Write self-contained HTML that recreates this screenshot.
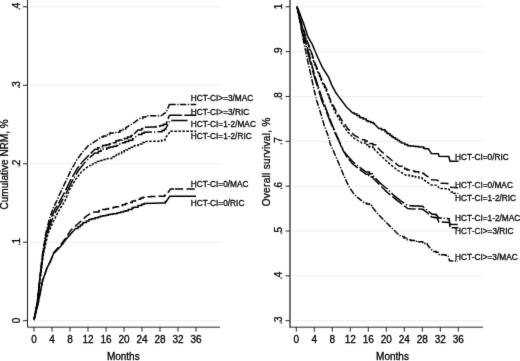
<!DOCTYPE html>
<html><head><meta charset="utf-8"><title>Chart</title>
<style>
html,body{margin:0;padding:0;background:#fff;}
body{width:520px;height:361px;overflow:hidden;}
svg{display:block;font-family:"Liberation Sans",sans-serif;}
</style></head><body>
<svg width="520" height="361" viewBox="0 0 520 361">
<defs><filter id="b" x="0" y="0" width="520" height="361" filterUnits="userSpaceOnUse"><feConvolveMatrix order="3" kernelMatrix="1 7 1 7 68 7 1 7 1" divisor="100" edgeMode="duplicate"/></filter></defs>
<rect width="520" height="361" fill="#fff"/>
<g filter="url(#b)">
<g stroke="#ededed" stroke-width="1">
<line x1="30" x2="220" y1="6.80" y2="6.80"/>
<line x1="30" x2="220" y1="85.27" y2="85.27"/>
<line x1="30" x2="220" y1="163.75" y2="163.75"/>
<line x1="30" x2="220" y1="242.22" y2="242.22"/>
<line x1="30" x2="220" y1="320.70" y2="320.70"/>
<line x1="292.5" x2="483" y1="6.80" y2="6.80"/>
<line x1="292.5" x2="483" y1="51.64" y2="51.64"/>
<line x1="292.5" x2="483" y1="96.48" y2="96.48"/>
<line x1="292.5" x2="483" y1="141.32" y2="141.32"/>
<line x1="292.5" x2="483" y1="186.16" y2="186.16"/>
<line x1="292.5" x2="483" y1="231.00" y2="231.00"/>
<line x1="292.5" x2="483" y1="275.84" y2="275.84"/>
<line x1="292.5" x2="483" y1="320.68" y2="320.68"/>
</g>
<g stroke="#222" stroke-width="1" fill="none">
<path d="M27.5,0 V327.2 H220"/>
<path d="M290,0 V327.2" stroke-width="1.3"/>
<path d="M289.4,327.2 H483"/>
<line x1="23.0" x2="27.5" y1="6.80" y2="6.80"/>
<line x1="23.0" x2="27.5" y1="85.27" y2="85.27"/>
<line x1="23.0" x2="27.5" y1="163.75" y2="163.75"/>
<line x1="23.0" x2="27.5" y1="242.22" y2="242.22"/>
<line x1="23.0" x2="27.5" y1="320.70" y2="320.70"/>
<line x1="285.5" x2="290" y1="6.80" y2="6.80"/>
<line x1="285.5" x2="290" y1="51.64" y2="51.64"/>
<line x1="285.5" x2="290" y1="96.48" y2="96.48"/>
<line x1="285.5" x2="290" y1="141.32" y2="141.32"/>
<line x1="285.5" x2="290" y1="186.16" y2="186.16"/>
<line x1="285.5" x2="290" y1="231.00" y2="231.00"/>
<line x1="285.5" x2="290" y1="275.84" y2="275.84"/>
<line x1="285.5" x2="290" y1="320.68" y2="320.68"/>
<line x1="34.0" x2="34.0" y1="327.2" y2="331.7"/>
<line x1="52.0" x2="52.0" y1="327.2" y2="331.7"/>
<line x1="70.0" x2="70.0" y1="327.2" y2="331.7"/>
<line x1="88.0" x2="88.0" y1="327.2" y2="331.7"/>
<line x1="106.0" x2="106.0" y1="327.2" y2="331.7"/>
<line x1="124.0" x2="124.0" y1="327.2" y2="331.7"/>
<line x1="142.0" x2="142.0" y1="327.2" y2="331.7"/>
<line x1="160.0" x2="160.0" y1="327.2" y2="331.7"/>
<line x1="178.0" x2="178.0" y1="327.2" y2="331.7"/>
<line x1="196.0" x2="196.0" y1="327.2" y2="331.7"/>
<line x1="296.3" x2="296.3" y1="327.2" y2="331.7"/>
<line x1="314.3" x2="314.3" y1="327.2" y2="331.7"/>
<line x1="332.3" x2="332.3" y1="327.2" y2="331.7"/>
<line x1="350.3" x2="350.3" y1="327.2" y2="331.7"/>
<line x1="368.3" x2="368.3" y1="327.2" y2="331.7"/>
<line x1="386.3" x2="386.3" y1="327.2" y2="331.7"/>
<line x1="404.3" x2="404.3" y1="327.2" y2="331.7"/>
<line x1="422.3" x2="422.3" y1="327.2" y2="331.7"/>
<line x1="440.3" x2="440.3" y1="327.2" y2="331.7"/>
<line x1="458.3" x2="458.3" y1="327.2" y2="331.7"/>
</g>
<g fill="#000" font-size="10px" stroke="#000" stroke-width="0.3">
<text x="34.0" y="343" text-anchor="middle">0</text>
<text x="52.0" y="343" text-anchor="middle">4</text>
<text x="70.0" y="343" text-anchor="middle">8</text>
<text x="88.0" y="343" text-anchor="middle">12</text>
<text x="106.0" y="343" text-anchor="middle">16</text>
<text x="124.0" y="343" text-anchor="middle">20</text>
<text x="142.0" y="343" text-anchor="middle">24</text>
<text x="160.0" y="343" text-anchor="middle">28</text>
<text x="178.0" y="343" text-anchor="middle">32</text>
<text x="196.0" y="343" text-anchor="middle">36</text>
<text x="296.3" y="343" text-anchor="middle">0</text>
<text x="314.3" y="343" text-anchor="middle">4</text>
<text x="332.3" y="343" text-anchor="middle">8</text>
<text x="350.3" y="343" text-anchor="middle">12</text>
<text x="368.3" y="343" text-anchor="middle">16</text>
<text x="386.3" y="343" text-anchor="middle">20</text>
<text x="404.3" y="343" text-anchor="middle">24</text>
<text x="422.3" y="343" text-anchor="middle">28</text>
<text x="440.3" y="343" text-anchor="middle">32</text>
<text x="458.3" y="343" text-anchor="middle">36</text>
<text transform="translate(19.6,6.80) rotate(-90)" text-anchor="middle" letter-spacing="-0.6">.4</text>
<text transform="translate(19.6,85.27) rotate(-90)" text-anchor="middle" letter-spacing="-0.6">.3</text>
<text transform="translate(19.6,163.75) rotate(-90)" text-anchor="middle" letter-spacing="-0.6">.2</text>
<text transform="translate(19.6,242.22) rotate(-90)" text-anchor="middle" letter-spacing="-0.6">.1</text>
<text transform="translate(19.6,320.70) rotate(-90)" text-anchor="middle" letter-spacing="-0.6">0</text>
<text transform="translate(281.7,6.80) rotate(-90)" text-anchor="middle" letter-spacing="-0.6">1</text>
<text transform="translate(281.7,51.64) rotate(-90)" text-anchor="middle" letter-spacing="-0.6">.9</text>
<text transform="translate(281.7,96.48) rotate(-90)" text-anchor="middle" letter-spacing="-0.6">.8</text>
<text transform="translate(281.7,141.32) rotate(-90)" text-anchor="middle" letter-spacing="-0.6">.7</text>
<text transform="translate(281.7,186.16) rotate(-90)" text-anchor="middle" letter-spacing="-0.6">.6</text>
<text transform="translate(281.7,231.00) rotate(-90)" text-anchor="middle" letter-spacing="-0.6">.5</text>
<text transform="translate(281.7,275.84) rotate(-90)" text-anchor="middle" letter-spacing="-0.6">.4</text>
<text transform="translate(281.7,320.68) rotate(-90)" text-anchor="middle" letter-spacing="-0.6">.3</text>
<text x="123.3" y="359.7" text-anchor="middle">Months</text>
<text x="392.5" y="359.7" text-anchor="middle">Months</text>
<text transform="translate(8.3,164.4) rotate(-90)" text-anchor="middle">Cumulative NRM, %</text>
<text transform="translate(270.4,206.3) rotate(-90)" textLength="88.6" lengthAdjust="spacing">Overall survival, %</text>
</g>
<g fill="#000" font-size="8.5px" stroke="#000" stroke-width="0.3">
<text x="190.7" y="101.15" textLength="62.6" lengthAdjust="spacingAndGlyphs">HCT-CI&gt;=3/MAC</text>
<text x="190.7" y="114.95" textLength="58.5" lengthAdjust="spacingAndGlyphs">HCT-CI&gt;=3/RIC</text>
<text x="190.7" y="126.55" textLength="65.2" lengthAdjust="spacingAndGlyphs">HCT-CI=1-2/MAC</text>
<text x="190.7" y="138.65" textLength="61.0" lengthAdjust="spacingAndGlyphs">HCT-CI=1-2/RIC</text>
<text x="190.7" y="186.70" textLength="57.8" lengthAdjust="spacingAndGlyphs">HCT-CI=0/MAC</text>
<text x="190.7" y="206.45" textLength="53.7" lengthAdjust="spacingAndGlyphs">HCT-CI=0/RIC</text>
<text x="455.1" y="160.15" textLength="53.7" lengthAdjust="spacingAndGlyphs">HCT-CI=0/RIC</text>
<text x="455.1" y="187.85" textLength="57.8" lengthAdjust="spacingAndGlyphs">HCT-CI=0/MAC</text>
<text x="455.1" y="200.65" textLength="61.0" lengthAdjust="spacingAndGlyphs">HCT-CI=1-2/RIC</text>
<text x="455.1" y="220.85" textLength="65.2" lengthAdjust="spacingAndGlyphs">HCT-CI=1-2/MAC</text>
<text x="455.1" y="234.05" textLength="58.5" lengthAdjust="spacingAndGlyphs">HCT-CI&gt;=3/RIC</text>
<text x="455.1" y="259.95" textLength="62.6" lengthAdjust="spacingAndGlyphs">HCT-CI&gt;=3/MAC</text>
</g>
<g stroke="#000" stroke-width="1.5" fill="none" stroke-linejoin="miter">
<path d="M34.00,320.00 L35.54,311.58 L36.78,304.76 L37.30,301.90 L38.52,289.79 L39.40,281.00 L40.95,267.33 L41.50,262.50 L42.60,253.80 L43.71,246.64 L44.60,240.91 L45.70,233.80 L47.25,227.54 L48.24,223.56 L49.50,218.50 L50.49,215.75 L52.00,211.57 L53.40,207.70 L54.52,205.43 L55.38,203.68 L56.80,200.80 L58.29,197.45 L59.26,195.26 L60.55,192.37 L61.60,190.00 L62.76,187.58 L64.11,184.76 L65.04,182.82 L66.37,180.06 L67.50,177.70 L68.49,175.51 L69.82,172.59 L71.00,170.00 L71.94,168.39 L73.13,166.34 L74.44,164.11 L75.28,162.66 L76.61,160.39 L77.30,159.20 L78.14,158.06 L79.39,156.38 L80.23,155.24 L81.47,153.57 L83.00,151.50 L84.19,150.20 L85.37,148.91 L86.88,147.27 L87.93,146.13 L88.50,145.50 L90.77,144.10 L92.43,143.08 L95.00,141.50 L96.56,140.37 L98.83,138.72 L101.20,137.00 L103.46,137.00 L103.46,136.02 L106.28,136.02 L106.28,134.79 L109.64,134.79 L109.64,133.33 L110.40,133.33 L110.40,133.00 L114.39,133.00 L114.39,132.54 L116.50,132.54 L116.50,132.30 L119.89,132.30 L119.89,130.62 L123.34,130.62 L123.34,128.92 L125.80,128.92 L125.80,127.70 L128.11,126.29 L129.78,125.27 L132.18,123.80 L133.50,123.00 L135.16,121.78 L137.38,120.14 L138.99,118.95 L139.60,118.50 L142.77,118.50 L142.77,117.12 L145.80,117.12 L145.80,115.80 L161.00,115.80 L162.78,114.57 L164.46,113.40 L166.20,112.20 L167.52,108.98 L168.46,106.70 L169.40,104.40 M169.40,104.40 L196.20,104.40" stroke-dasharray="6.3 1.5 1.3 1.5"/>
<path d="M34.00,320.00 L35.54,311.83 L36.78,305.21 L37.40,301.90 L38.62,290.34 L39.60,281.00 L41.15,267.95 L41.80,262.50 L42.90,253.80 L44.01,247.27 L44.90,242.04 L46.30,233.80 L47.85,228.51 L48.84,225.14 L50.50,219.50 L51.49,217.19 L53.00,213.66 L54.24,210.77 L55.00,209.00 L55.86,207.64 L56.81,206.14 L58.80,203.00 L59.77,201.19 L61.06,198.81 L62.30,196.51 L63.46,194.36 L65.00,191.50 L65.93,189.59 L67.25,186.88 L68.14,185.06 L69.13,183.03 L70.46,180.31 L71.00,179.20 L71.94,177.58 L73.13,175.52 L74.44,173.27 L75.28,171.81 L76.61,169.53 L77.20,168.50 L78.04,167.46 L79.29,165.91 L80.13,164.86 L81.37,163.32 L82.65,161.73 L83.40,160.80 L84.66,159.52 L86.28,157.87 L87.41,156.73 L88.75,155.36 L89.50,154.60 L90.54,153.58 L92.30,151.85 L93.46,150.72 L95.00,149.20 L97.78,149.20 L97.78,147.83 L99.78,147.83 L99.78,146.84 L102.70,146.84 L102.70,145.40 L106.06,145.40 L106.06,144.70 L109.18,144.70 L109.18,144.05 L110.40,144.05 L110.40,143.80 L112.44,143.80 L112.44,142.79 L115.85,142.79 L115.85,141.12 L116.50,141.12 L116.50,140.80 L119.05,140.80 L119.05,140.04 L122.27,140.04 L122.27,139.08 L124.20,139.08 L124.20,138.50 L127.55,138.50 L127.55,137.09 L131.12,137.09 L131.12,135.60 L133.50,135.60 L133.50,134.60 L135.10,132.96 L136.26,131.78 L137.27,130.75 L138.00,130.00 L141.67,130.00 L141.67,128.46 L144.20,128.46 L144.20,127.40 L153.50,127.00 L156.16,127.00 L156.16,126.43 L159.65,126.43 L159.65,125.69 L161.00,125.69 L161.00,125.40 L163.50,125.40 L163.50,124.31 L166.50,124.31 L166.50,123.00 L167.79,119.54 L169.40,115.20 M169.40,115.20 L196.20,115.20" stroke-dasharray="12.5 2.5"/>
<path d="M34.00,320.00 L35.16,314.00 L36.21,308.56 L37.50,301.90 L38.69,291.10 L39.80,281.00 L41.18,269.40 L42.00,262.50 L43.10,253.80 L43.99,249.22 L45.29,242.59 L47.00,233.80 L48.28,230.16 L49.28,227.31 L50.73,223.19 L51.50,221.00 L52.58,218.63 L53.61,216.35 L54.94,213.44 L56.50,210.00 L58.00,207.65 L59.47,205.34 L60.00,204.50 L61.00,202.65 L62.29,200.28 L63.43,198.16 L64.73,195.76 L65.92,193.56 L66.50,192.50 L67.99,189.53 L68.85,187.80 L69.94,185.62 L71.02,183.47 L72.50,180.50 L73.42,178.93 L74.68,176.81 L76.20,174.23 L77.48,172.07 L78.70,170.00 L79.82,168.66 L80.98,167.29 L82.09,165.97 L83.19,164.65 L84.28,163.36 L85.00,162.50 L86.81,160.69 L88.40,159.10 L89.95,157.55 L91.00,156.50 L92.31,155.35 L93.65,154.18 L95.00,153.00 L98.39,153.00 L98.39,151.33 L101.15,151.33 L101.15,149.97 L102.70,149.97 L102.70,149.20 L106.78,149.20 L106.78,148.03 L109.10,148.03 L109.10,147.37 L110.40,147.37 L110.40,147.00 L113.41,147.00 L113.41,146.21 L116.50,146.21 L116.50,145.40 L119.78,145.40 L119.78,144.03 L122.58,144.03 L122.58,142.85 L125.05,142.85 L125.05,141.81 L125.80,141.81 L125.80,141.50 L128.85,141.50 L128.85,140.31 L132.63,140.31 L132.63,138.84 L133.50,138.84 L133.50,138.50 L135.18,137.26 L137.08,135.87 L138.80,134.60 L141.84,134.60 L141.84,133.31 L144.20,133.31 L144.20,132.30 L159.60,131.80 L162.07,131.80 L162.07,130.49 L164.37,130.49 L164.37,129.26 L165.80,129.26 L165.80,128.50 L167.01,126.24 L168.03,124.32 L169.29,121.95 L169.80,121.00 L171.20,120.60 M171.20,120.60 L187.50,120.60" stroke-dasharray="16.3 2.2 1.2 2.2"/>
<path d="M34.00,320.00 L35.00,314.97 L36.51,307.37 L37.60,301.90 L38.46,294.44 L40.00,281.00 L41.35,270.11 L42.30,262.50 L43.40,253.80 L44.84,247.55 L45.95,242.72 L47.37,236.54 L48.00,233.80 L49.39,230.54 L50.75,227.34 L51.84,224.79 L52.60,223.00 L54.14,219.97 L55.62,217.06 L57.11,214.12 L58.03,212.32 L58.80,210.80 L60.25,208.46 L61.31,206.75 L62.18,205.35 L63.56,203.12 L65.00,200.80 L66.54,197.12 L67.56,194.66 L68.46,192.49 L69.50,190.00 L70.95,187.48 L72.26,185.20 L73.17,183.60 L74.26,181.72 L75.19,180.09 L75.70,179.20 L77.10,177.43 L78.27,175.96 L79.49,174.41 L80.50,173.15 L81.80,171.50 L84.09,169.69 L85.75,168.37 L87.31,167.14 L89.50,165.40 L92.90,165.40 L92.90,163.68 L94.93,163.68 L94.93,162.65 L97.20,162.65 L97.20,161.50 L100.59,161.50 L100.59,160.56 L104.00,160.56 L104.00,159.61 L107.22,159.61 L107.22,158.72 L108.00,158.72 L108.00,158.50 L111.69,158.50 L111.69,156.81 L114.29,156.81 L114.29,155.61 L116.50,155.61 L116.50,154.60 L118.73,154.60 L118.73,153.50 L121.65,153.50 L121.65,152.05 L124.04,152.05 L124.04,150.87 L125.80,150.87 L125.80,150.00 L128.65,150.00 L128.65,148.58 L131.34,148.58 L131.34,147.23 L134.35,147.23 L134.35,145.72 L135.00,145.72 L135.00,145.40 L138.26,145.40 L138.26,144.02 L142.00,144.02 L142.00,142.43 L144.20,142.43 L144.20,141.50 L159.60,141.20 L161.60,141.20 L161.60,140.20 L165.00,140.20 L165.00,138.50 L166.10,137.01 L167.22,135.49 L168.15,134.24 L169.41,132.54 L170.40,131.20 M170.40,131.20 L196.20,131.20" stroke-dasharray="2.5 1.5"/>
<path d="M34.00,320.00 L35.28,314.75 L36.77,308.69 L38.40,302.00 L39.75,295.07 L41.27,287.32 L42.50,281.00 L43.87,276.99 L45.23,273.00 L46.70,268.70 L47.57,266.95 L48.53,265.00 L50.09,261.85 L50.80,260.40 L51.83,257.47 L53.40,253.00 L54.41,251.88 L55.56,250.60 L56.78,249.24 L57.83,248.07 L58.80,247.00 L60.01,245.43 L61.31,243.74 L62.38,242.35 L63.70,240.64 L65.24,238.63 L66.50,237.00 L67.54,235.38 L68.45,233.97 L69.77,231.91 L71.00,230.00 L72.50,228.65 L73.83,227.46 L75.65,225.83 L77.45,224.21 L78.80,223.00 L80.64,221.33 L81.93,220.15 L83.33,218.88 L85.29,217.10 L86.50,216.00 L88.32,214.90 L89.98,213.89 L92.60,212.30 L95.00,212.00 L98.82,212.00 L98.82,210.81 L101.16,210.81 L101.16,210.08 L102.70,210.08 L102.70,209.60 L105.70,209.60 L105.70,208.98 L108.57,208.98 L108.57,208.38 L110.40,208.38 L110.40,208.00 L113.38,208.00 L113.38,207.29 L115.89,207.29 L115.89,206.69 L119.60,206.69 L119.60,205.80 L122.22,205.80 L122.22,204.83 L125.49,204.83 L125.49,203.62 L128.80,203.62 L128.80,202.40 L132.30,202.40 L132.30,200.99 L135.45,200.99 L135.45,199.72 L136.50,199.72 L136.50,199.30 L140.54,199.30 L140.54,197.99 L143.11,197.99 L143.11,197.15 L144.20,197.15 L144.20,196.80 L147.02,196.80 L147.02,196.70 L150.68,196.70 L150.68,196.57 L153.73,196.57 L153.73,196.46 L156.72,196.46 L156.72,196.36 L159.11,196.36 L159.11,196.27 L161.20,196.27 L161.20,196.20 L164.69,196.20 L164.69,195.36 L166.20,195.36 L166.20,195.00 L167.37,193.37 L168.38,191.95 L169.45,190.47 L170.50,189.00 L174.90,189.00 M174.90,189.00 L195.50,189.00" stroke-dasharray="8.2 3.4"/>
<path d="M34.00,320.00 L35.02,315.85 L36.22,310.93 L37.17,307.02 L38.40,302.00 L39.41,296.84 L40.64,290.50 L42.50,281.00 L43.63,277.70 L45.16,273.20 L46.70,268.70 L47.93,266.20 L49.23,263.58 L50.80,260.40 L51.90,257.61 L53.40,253.80 L54.69,252.48 L56.45,250.67 L58.10,248.98 L59.08,247.97 L60.24,246.78 L61.00,246.00 L62.43,244.17 L63.39,242.92 L64.68,241.27 L65.78,239.85 L67.19,238.04 L68.00,237.00 L69.47,235.38 L70.50,234.24 L71.97,232.62 L73.19,231.27 L74.71,229.59 L75.70,228.50 L77.97,228.50 L77.97,226.76 L80.33,226.76 L80.33,224.95 L82.52,224.95 L82.52,223.28 L83.40,223.28 L83.40,222.60 L86.41,222.60 L86.41,220.93 L89.00,220.93 L89.00,219.50 L91.58,219.50 L91.58,218.73 L95.00,218.73 L95.00,217.70 L98.13,217.70 L98.13,216.93 L100.40,216.93 L100.40,216.37 L102.70,216.37 L102.70,215.80 L105.74,215.80 L105.74,215.17 L108.36,215.17 L108.36,214.62 L110.40,214.62 L110.40,214.20 L112.86,214.20 L112.86,213.72 L116.83,213.72 L116.83,212.93 L118.00,212.93 L118.00,212.70 L120.58,212.70 L120.58,212.04 L123.51,212.04 L123.51,211.29 L125.80,211.29 L125.80,210.70 L128.24,210.70 L128.24,209.62 L131.91,209.62 L131.91,208.00 L133.50,208.00 L133.50,207.30 L138.00,207.30 L138.00,205.50 L141.83,205.50 L141.83,204.26 L144.20,204.26 L144.20,203.50 L161.20,203.00 L165.35,203.00 L165.35,201.59 L166.50,201.59 L166.50,201.20 L167.80,199.20 L169.03,197.32 L169.70,196.30 L196.00,196.30"/>
<path d="M297.00,6.50 L298.00,9.04 L299.51,12.88 L301.03,16.74 L301.89,18.91 L303.50,23.00 L304.85,27.21 L306.18,31.35 L307.03,33.99 L308.00,37.00 L309.11,38.89 L310.53,41.31 L312.00,43.80 L313.39,47.11 L314.60,50.00 L315.68,52.56 L317.01,55.68 L318.50,59.20 L319.98,62.26 L321.48,65.35 L322.39,67.24 L323.00,68.50 L324.45,70.74 L325.51,72.38 L326.38,73.73 L327.76,75.86 L328.50,77.00 L330.04,80.89 L331.50,84.60 L332.40,86.29 L333.66,88.63 L335.11,91.34 L336.00,93.00 L336.92,94.23 L338.00,95.69 L338.93,96.95 L340.06,98.47 L341.20,100.00 L342.37,101.54 L343.59,103.16 L344.59,104.48 L345.81,106.09 L346.50,107.00 L347.86,108.32 L349.14,109.55 L350.75,111.11 L352.70,113.00 L354.38,113.00 L354.38,114.03 L356.87,114.03 L356.87,115.54 L359.30,115.54 L359.30,117.03 L360.40,117.03 L360.40,117.70 L363.22,117.70 L363.22,119.11 L366.32,119.11 L366.32,120.66 L368.00,120.66 L368.00,121.50 L370.73,121.50 L370.73,122.51 L373.25,122.51 L373.25,123.45 L374.20,123.45 L374.20,123.80 L375.61,125.24 L376.77,126.43 L378.12,127.80 L378.80,128.50 L381.58,128.50 L381.58,129.85 L385.00,129.85 L385.00,131.50 L386.67,131.50 L386.67,132.92 L387.70,132.92 L387.70,133.80 L390.03,133.80 L390.03,135.44 L391.87,135.44 L391.87,136.73 L393.30,136.73 L393.30,137.73 L395.40,137.73 L395.40,139.20 L397.46,139.20 L397.46,140.48 L399.56,140.48 L399.56,141.79 L401.50,141.79 L401.50,143.00 L404.75,143.00 L404.75,144.47 L407.70,144.47 L407.70,145.80 L410.08,145.80 L410.08,146.03 L413.41,146.03 L413.41,146.36 L415.73,146.36 L415.73,146.58 L418.78,146.58 L418.78,146.88 L420.00,146.88 L420.00,147.00 L423.64,147.00 L423.64,148.24 L425.00,148.24 L425.00,148.70 L428.50,148.70 L428.50,149.30 L429.60,150.85 L431.40,153.40 L438.40,153.70 L439.00,156.30 L448.80,156.50 L450.00,161.20 L458.50,161.20"/>
<path d="M297.00,6.50 L298.26,11.13 L299.25,14.76 L300.55,19.56 L302.30,26.00 L303.17,28.71 L304.33,32.33 L305.43,35.73 L306.80,40.00 L308.27,43.68 L309.81,47.52 L310.80,50.00 L311.94,53.70 L313.41,58.45 L314.60,62.30 L315.79,65.11 L316.97,67.89 L317.86,70.00 L318.50,71.50 L319.61,74.22 L320.72,76.92 L321.63,79.16 L322.30,80.80 L323.24,82.63 L324.10,84.32 L325.57,87.17 L327.00,89.97 L328.28,93.72 L329.64,97.70 L330.40,99.92 L331.90,102.89 L332.85,104.79 L334.01,107.09 L334.95,108.95 L335.80,110.64 L336.80,112.24 L337.83,113.89 L338.85,115.52 L340.21,117.69 L341.40,119.58 L342.00,120.55 L343.26,122.31 L344.53,124.06 L345.85,125.91 L346.93,127.41 L348.00,128.90 L349.22,130.12 L350.37,131.27 L352.11,133.01 L353.60,134.50 L354.20,135.10 L356.74,136.60 L358.66,137.73 L362.00,139.70 L364.79,139.70 L364.79,141.09 L367.25,141.09 L367.25,142.32 L369.60,142.32 L369.60,143.50 L372.77,143.50 L372.77,144.73 L375.80,144.73 L375.80,145.90 L376.89,146.99 L378.67,148.77 L380.40,150.50 L381.60,151.59 L383.17,153.00 L384.60,154.30 L385.82,155.33 L387.20,156.48 L388.43,157.52 L390.55,159.30 L391.50,160.10 L393.32,161.54 L395.32,163.13 L396.85,164.34 L398.61,165.73 L399.20,166.20 L402.17,166.20 L402.17,167.68 L404.66,167.68 L404.66,168.93 L407.00,168.93 L407.00,170.10 L410.96,170.10 L410.96,170.93 L414.60,170.93 L414.60,171.70 L418.72,171.70 L418.72,172.69 L421.21,172.69 L421.21,173.28 L423.80,173.28 L423.80,173.90 L425.55,175.05 L428.50,177.00 L429.97,178.33 L431.50,179.70 L437.70,180.10 L439.20,183.20 L447.70,183.50 L448.89,185.47 L450.00,187.30 L458.30,187.80" stroke-dasharray="8.2 3.4"/>
<path d="M297.00,6.50 L297.89,9.93 L299.04,14.36 L300.06,18.27 L301.22,22.74 L302.20,26.50 L303.66,31.25 L304.90,35.29 L306.60,40.80 L308.11,44.74 L309.30,47.87 L310.50,51.00 L311.43,54.02 L312.84,58.56 L313.73,61.44 L314.30,63.30 L315.26,65.64 L316.62,68.96 L318.20,72.80 L319.40,75.71 L320.62,78.67 L322.00,82.00 L323.55,85.14 L324.65,87.39 L326.13,90.39 L326.70,91.56 L328.04,95.23 L329.59,99.46 L330.40,101.69 L331.47,104.00 L332.66,106.57 L333.72,108.87 L334.77,111.14 L335.80,113.38 L337.30,115.86 L338.84,118.39 L340.31,120.82 L342.00,123.59 L343.13,125.22 L344.20,126.74 L345.33,128.37 L346.18,129.59 L347.10,130.91 L348.00,132.20 L349.33,133.53 L350.86,135.06 L352.31,136.51 L353.37,137.57 L354.20,138.40 L356.47,139.74 L358.81,141.12 L361.00,142.41 L362.00,143.00 L365.42,143.00 L365.42,144.75 L368.91,144.75 L368.91,146.54 L369.60,146.54 L369.60,146.90 L373.10,146.90 L373.10,148.65 L374.20,148.65 L374.20,149.20 L375.91,150.87 L377.15,152.09 L378.80,153.70 L380.34,155.17 L381.78,156.53 L383.00,157.70 L384.52,159.11 L385.74,160.24 L387.05,161.46 L388.89,163.17 L390.00,164.20 L392.10,165.86 L393.73,167.15 L395.09,168.23 L396.74,169.54 L397.70,170.30 L399.56,171.41 L402.14,172.96 L404.76,174.52 L405.40,174.90 L409.04,174.90 L409.04,175.67 L412.31,175.67 L412.31,176.35 L413.00,176.35 L413.00,176.50 L415.43,176.50 L415.43,177.08 L419.02,177.08 L419.02,177.92 L422.30,177.92 L422.30,178.70 L424.76,180.37 L427.00,181.90 L428.31,182.94 L430.80,184.90 L437.70,185.40 L438.58,187.23 L439.20,188.50 L448.50,188.70 L449.40,190.00 L450.80,192.00 L453.80,192.00 L453.80,193.30 L458.30,193.50" stroke-dasharray="2.5 1.5"/>
<path d="M297.00,6.50 L298.37,13.38 L299.89,20.99 L301.27,27.89 L301.85,30.80 L302.77,34.13 L304.03,38.68 L305.18,42.85 L306.05,46.00 L307.25,50.00 L308.33,54.27 L310.35,62.30 L311.45,66.27 L312.69,70.73 L314.15,76.00 L315.55,80.50 L316.42,83.29 L318.05,88.50 L318.97,91.51 L320.05,95.08 L320.96,98.06 L321.55,100.00 L322.53,102.35 L323.51,104.70 L324.73,107.63 L326.05,110.80 L327.28,113.97 L328.49,117.13 L329.84,120.61 L330.75,122.97 L332.29,126.54 L333.55,129.48 L334.84,132.48 L335.35,133.66 L336.44,136.00 L337.84,139.01 L338.77,141.01 L339.95,143.54 L341.13,146.33 L342.55,149.68 L343.89,151.33 L344.79,152.45 L345.93,153.87 L347.05,155.25 L347.70,156.06 L349.13,157.66 L350.32,158.99 L351.68,160.52 L353.00,162.00 L355.25,163.77 L356.94,165.09 L359.08,166.77 L360.00,167.50 L361.41,168.56 L363.55,170.17 L366.00,172.00 L369.48,172.00 L369.48,173.66 L372.30,173.66 L372.30,175.00 L373.47,176.20 L374.92,177.67 L377.00,179.80 L378.16,180.98 L379.43,182.28 L380.76,183.64 L381.50,184.40 L383.68,186.02 L385.43,187.32 L387.70,189.00 L389.31,190.69 L390.27,191.70 L391.62,193.12 L392.64,194.18 L393.80,195.40 L395.64,196.86 L397.15,198.05 L399.24,199.71 L400.70,200.86 L401.50,201.50 L404.23,203.21 L406.68,204.76 L407.70,205.40 L410.40,205.80 L412.77,205.80 L412.77,205.94 L415.55,205.94 L415.55,206.09 L419.31,206.09 L419.31,206.31 L422.70,206.31 L422.70,206.50 L424.20,207.77 L425.64,209.00 L427.30,210.40 L428.96,211.74 L430.73,213.17 L432.00,214.20 L435.91,214.20 L435.91,214.90 L436.50,214.90 L436.50,215.00 L437.52,216.33 L438.80,218.00 L441.18,218.00 L441.18,218.18 L444.85,218.18 L444.85,218.47 L447.48,218.47 L447.48,218.67 L449.20,218.67 L449.20,218.80 L449.70,224.30 L458.30,224.50" stroke-dasharray="16.3 2.2 1.2 2.2"/>
<path d="M297.00,6.50 L298.20,12.19 L299.44,18.09 L300.86,24.86 L302.15,31.00 L303.22,34.41 L304.56,38.68 L305.75,42.48 L306.95,46.30 L308.15,50.50 L309.23,54.78 L310.19,58.59 L311.25,62.80 L312.73,68.15 L314.07,72.96 L315.05,76.50 L316.13,79.97 L317.29,83.66 L318.23,86.69 L318.95,89.00 L320.00,92.10 L321.05,95.20 L322.75,100.20 L323.84,103.07 L325.38,107.15 L326.95,111.30 L328.34,114.91 L329.63,118.27 L330.60,120.79 L331.65,123.53 L332.68,125.97 L333.81,128.65 L334.74,130.87 L335.63,132.96 L336.25,134.45 L337.10,136.31 L338.22,138.77 L339.67,141.96 L340.85,144.56 L341.99,147.45 L342.91,149.77 L343.45,151.12 L344.34,152.59 L345.33,154.23 L346.62,156.36 L347.70,158.14 L348.58,159.15 L349.80,160.54 L350.96,161.87 L352.11,163.19 L353.00,164.20 L354.67,165.51 L356.02,166.58 L358.01,168.13 L360.00,169.70 L361.97,171.21 L363.69,172.53 L366.00,174.30 L368.71,174.30 L368.71,175.59 L371.13,175.59 L371.13,176.74 L372.30,176.74 L372.30,177.30 L374.01,179.05 L375.10,180.16 L377.00,182.10 L378.73,183.87 L380.39,185.56 L381.50,186.70 L382.88,188.06 L384.62,189.77 L386.22,191.35 L387.70,192.80 L389.11,193.93 L390.96,195.42 L392.95,197.02 L393.80,197.70 L395.26,198.85 L397.39,200.54 L399.23,202.00 L400.90,203.32 L401.50,203.80 L403.08,205.00 L404.65,206.18 L406.06,207.25 L407.70,208.50 L410.40,208.80 L422.70,209.30 L424.19,210.40 L426.54,212.14 L427.30,212.70 L428.81,214.18 L429.89,215.23 L431.40,216.72 L432.00,217.30 L434.95,217.30 L434.95,217.69 L437.30,217.69 L437.30,218.00 L438.80,222.00 L449.60,222.40 L450.00,227.80 L458.30,227.80" stroke-dasharray="12.5 2.5" stroke-dashoffset="3"/>
<path d="M297.00,6.50 L298.14,12.03 L299.19,17.11 L300.40,23.00 L301.56,30.06 L302.70,37.00 L303.94,42.96 L305.40,50.00 L306.70,56.11 L307.70,60.80 L308.59,64.77 L309.84,70.31 L310.80,74.60 L312.11,80.68 L313.80,88.50 L314.67,92.22 L315.59,96.14 L316.50,100.00 L317.96,104.60 L319.37,109.06 L320.40,112.30 L321.34,115.54 L322.43,119.30 L323.69,123.63 L324.20,125.40 L325.21,128.05 L326.71,132.01 L328.00,135.40 L329.13,139.72 L330.40,144.60 L331.74,147.39 L333.00,150.00 L334.40,153.22 L335.48,155.71 L337.00,159.20 L338.39,162.53 L339.42,165.02 L340.39,167.33 L341.50,170.00 L342.53,172.42 L344.00,175.90 L344.85,177.89 L345.40,179.20 L346.36,181.16 L347.78,184.09 L349.20,187.00 L350.13,188.38 L351.68,190.67 L352.83,192.36 L353.80,193.80 L355.05,195.05 L356.23,196.23 L357.00,197.00 L358.45,198.14 L360.30,199.61 L362.30,201.18 L364.60,203.00 L366.50,203.00 L366.50,203.98 L369.46,203.98 L369.46,205.53 L371.78,205.53 L371.78,206.73 L372.30,206.73 L372.30,207.00 L373.76,208.86 L375.22,210.73 L376.16,211.92 L377.00,213.00 L378.56,214.61 L379.86,215.96 L381.38,217.53 L383.00,219.20 L384.81,221.01 L386.51,222.71 L388.33,224.53 L389.20,225.40 L390.70,226.86 L392.05,228.18 L393.20,229.30 L394.93,230.98 L396.36,232.38 L397.00,233.00 L398.40,234.23 L399.84,235.48 L401.00,236.50 L403.90,236.50 L403.90,238.02 L406.27,238.02 L406.27,239.26 L407.30,239.26 L407.30,239.80 L410.68,239.80 L410.68,240.42 L415.00,240.42 L415.00,241.20 L418.32,241.20 L418.32,241.76 L422.70,241.76 L422.70,242.50 L424.96,242.50 L424.96,243.63 L427.30,243.63 L427.30,244.80 L428.53,246.26 L429.39,247.29 L430.40,248.50 L432.04,250.09 L433.50,251.50 L435.99,251.50 L435.99,252.22 L438.00,252.22 L438.00,252.80 L438.80,254.60 L441.50,254.60 L441.50,254.83 L445.33,254.83 L445.33,255.17 L448.00,255.17 L448.00,255.40 L448.94,258.57 L449.60,260.80 L458.00,261.20" stroke-dasharray="6.3 1.5 1.3 1.5"/>
</g>
</g>
</svg>
</body></html>
